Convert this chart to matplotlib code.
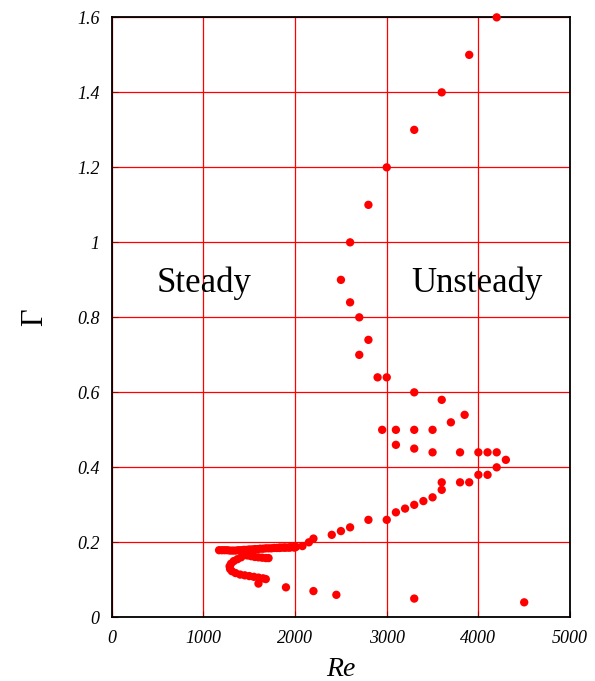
import numpy as np
import matplotlib.pyplot as plt

# stability map: Reynolds number vs aspect ratio Gamma
# upper part of the curve and scattered points
re_pts = [4200, 3900, 3600, 3300, 3000, 2800, 2600, 2500, 2600, 2700, 2800, 2700,
          2900, 3000, 3300, 3600, 3850, 3700, 2950, 3100, 3300, 3500, 3100, 3300,
          3500, 3800, 4000, 4100, 4200, 4300, 4200, 4000, 4100, 3600, 3800, 3900,
          3600, 3500, 3400, 3300, 3200, 3100, 3000, 2800, 2600, 2500, 2400, 2200,
          2150, 2080, 1995, 1940, 1886, 1832,
          1900, 2200, 2450, 3300, 4500, 1600]
gamma_pts = [1.60, 1.50, 1.40, 1.30, 1.20, 1.10, 1.00, 0.90, 0.84, 0.80, 0.74, 0.70,
             0.64, 0.64, 0.60, 0.58, 0.54, 0.52, 0.50, 0.50, 0.50, 0.50, 0.46, 0.45,
             0.44, 0.44, 0.44, 0.44, 0.44, 0.42, 0.40, 0.38, 0.38, 0.36, 0.36, 0.36,
             0.34, 0.32, 0.31, 0.30, 0.29, 0.28, 0.26, 0.26, 0.24, 0.23, 0.22, 0.21,
             0.20, 0.19, 0.186, 0.186, 0.186, 0.186,
             0.08, 0.07, 0.06, 0.05, 0.04, 0.09]

re_top = [1170, 1200, 1230, 1260, 1290, 1320, 1350, 1380, 1410, 1440, 1470, 1500,
          1530, 1560, 1590, 1620, 1650, 1680, 1710, 1740, 1770, 1800, 1830, 1860,
          1890, 1920, 1950, 1980, 2010]
gamma_top = [0.179, 0.179, 0.179, 0.179, 0.178, 0.178, 0.178, 0.179, 0.179, 0.180,
             0.180, 0.181, 0.181, 0.182, 0.182, 0.183, 0.183, 0.184, 0.184, 0.184,
             0.185, 0.185, 0.185, 0.186, 0.186, 0.186, 0.187, 0.187, 0.188]
re_diag = [1530, 1490, 1450, 1410, 1370, 1330, 1300, 1285, 1290, 1310, 1350, 1400,
           1450, 1500, 1550, 1600, 1650, 1680]
gamma_diag = [0.178, 0.172, 0.166, 0.160, 0.155, 0.150, 0.143, 0.136, 0.129, 0.123,
              0.118, 0.114, 0.112, 0.110, 0.108, 0.106, 0.104, 0.102]
re_mid = [1480, 1520, 1560, 1600, 1640, 1680, 1710]
gamma_mid = [0.165, 0.163, 0.161, 0.160, 0.159, 0.158, 0.158]

plt.rcParams['font.family'] = ['Liberation Serif', 'DejaVu Serif']

fig = plt.figure(figsize=(5.95, 6.81), dpi=100)
ax = fig.add_axes([0.188, 0.0935, 0.770, 0.881])

ms = 36
for x, y in [(re_pts, gamma_pts), (re_top, gamma_top), (re_diag, gamma_diag), (re_mid, gamma_mid)]:
    ax.scatter(x, y, s=ms, c='#ff0000', edgecolors='none', zorder=3, clip_on=False)

ax.set_xlim(0, 5000)
ax.set_ylim(0, 1.6)
ax.set_xticks(np.arange(0, 5001, 1000))
ax.set_yticks(np.arange(0, 1.61, 0.2))
ax.set_yticklabels(['%g' % round(v, 1) for v in np.arange(0, 1.61, 0.2)])
ax.grid(True, color='#ff0000', linewidth=0.9)
ax.set_axisbelow(True)
ax.tick_params(direction='in', length=4, color='#a00000', labelsize=13, pad=9)
for lab in ax.get_xticklabels() + ax.get_yticklabels():
    lab.set_fontstyle('italic')
for sp in ax.spines.values():
    sp.set_linewidth(1.3)

ax.set_xlabel('Re', fontsize=20, fontstyle='italic', labelpad=7)
ax.set_ylabel('Γ', fontsize=22, labelpad=20)

ax.text(487, 0.867, 'Steady', fontsize=25)
ax.text(3268, 0.867, 'Unsteady', fontsize=25)

fig.savefig('out.png', dpi=100)
